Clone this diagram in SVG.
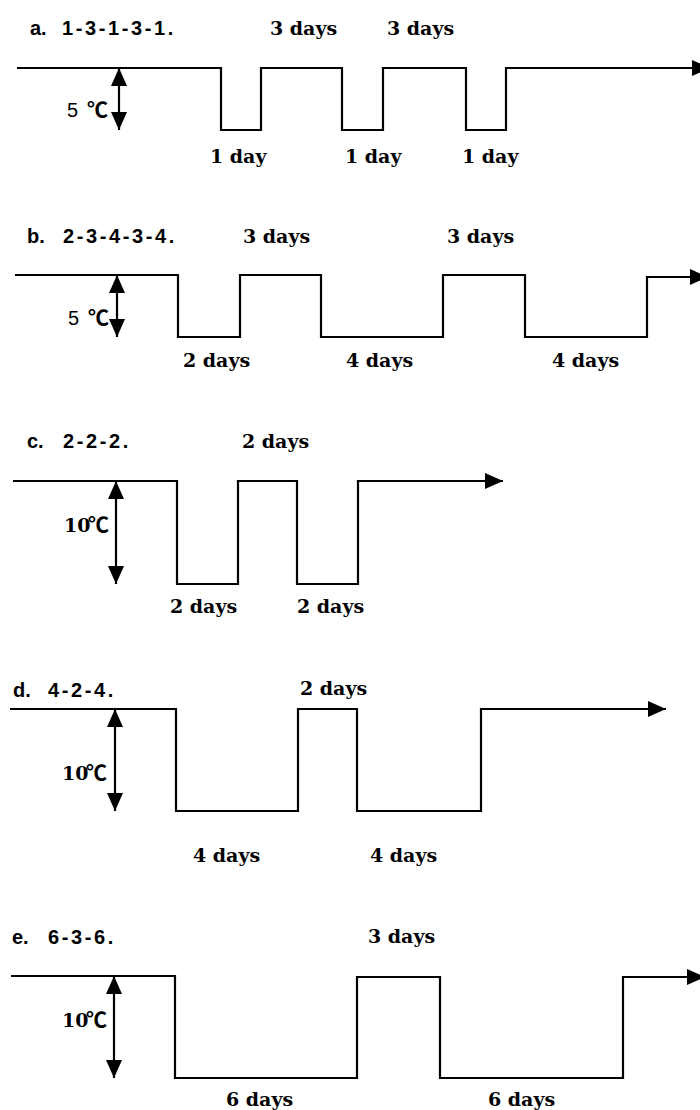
<svg xmlns="http://www.w3.org/2000/svg" width="700" height="1110" viewBox="0 0 700 1110">
<style>
.wave{fill:none;stroke:#000;stroke-width:2.2;stroke-linejoin:miter}
.dim{fill:none;stroke:#000;stroke-width:2.2}
.title{font-family:"Liberation Sans","Noto Sans",sans-serif;font-weight:bold;font-size:20px;fill:#000}
.seq{letter-spacing:2.6px}
.lbl{font-family:"DejaVu Serif","Liberation Serif",serif;font-weight:bold;font-size:19px;fill:#000}
.t5{font-family:"Liberation Sans","Noto Sans",sans-serif;font-size:20px;fill:#000}
.t10{font-family:"DejaVu Serif","Liberation Serif",serif;font-weight:bold;font-size:19px;fill:#000}
.deg{font-family:"Noto Sans CJK JP","Noto Sans CJK SC",sans-serif;font-weight:bold;font-size:21px}
</style>
<defs>
<marker id="ah" markerUnits="userSpaceOnUse" markerWidth="18" markerHeight="16" refX="18" refY="8" orient="auto-start-reverse" viewBox="0 0 18 16">
<path d="M0,0 L18,8 L0,16 z" fill="#000"/>
</marker>
</defs>

<g id="connectors">
<path id="wave-a" class="wave" d="M17,68 H221 V130 H261 V68 H342 V130 H383 V68 H466 V130 H506 V68 H710" marker-end="url(#ah)"/>
<path id="dim-a" class="dim" d="M119,68 V130" marker-start="url(#ah)" marker-end="url(#ah)"/>
<path id="wave-b" class="wave" d="M15,275 H178 V337 H240 V275 H321 V337 H443 V275 H525 V337 H647 V277 H708" marker-end="url(#ah)"/>
<path id="dim-b" class="dim" d="M117,275 V337" marker-start="url(#ah)" marker-end="url(#ah)"/>
<path id="wave-c" class="wave" d="M13,481 H177 V584 H238 V481 H297 V584 H358 V481 H503" marker-end="url(#ah)"/>
<path id="dim-c" class="dim" d="M116,481 V584" marker-start="url(#ah)" marker-end="url(#ah)"/>
<path id="wave-d" class="wave" d="M10,709 H176 V811 H298 V709 H357 V811 H481 V709 H666" marker-end="url(#ah)"/>
<path id="dim-d" class="dim" d="M115,709 V811" marker-start="url(#ah)" marker-end="url(#ah)"/>
<path id="wave-e" class="wave" d="M11,976 H175 V1078 H357 V977 H440 V1078 H623 V977 H705" marker-end="url(#ah)"/>
<path id="dim-e" class="dim" d="M114,976 V1078" marker-start="url(#ah)" marker-end="url(#ah)"/>
</g>

<g id="panel-a">
<text class="title" y="35"><tspan x="30">a.</tspan><tspan x="62" class="seq">1-3-1-3-1.</tspan></text>
<text class="lbl" x="270" y="35">3 days</text>
<text class="lbl" x="387" y="35">3 days</text>
<text class="t5" y="117"><tspan x="67">5</tspan><tspan x="87" class="deg">℃</tspan></text>
<text class="lbl" x="210" y="163">1 day</text>
<text class="lbl" x="345" y="163">1 day</text>
<text class="lbl" x="462" y="163">1 day</text>
</g>

<g id="panel-b">
<text class="title" y="243"><tspan x="27">b.</tspan><tspan x="63" class="seq">2-3-4-3-4.</tspan></text>
<text class="lbl" x="243" y="243">3 days</text>
<text class="lbl" x="447" y="243">3 days</text>
<text class="t5" y="325"><tspan x="68">5</tspan><tspan x="88" class="deg">℃</tspan></text>
<text class="lbl" x="183" y="367">2 days</text>
<text class="lbl" x="346" y="367">4 days</text>
<text class="lbl" x="552" y="367">4 days</text>
</g>

<g id="panel-c">
<text class="title" y="448"><tspan x="27">c.</tspan><tspan x="63" class="seq">2-2-2.</tspan></text>
<text class="lbl" x="242" y="448">2 days</text>
<text class="t10" y="532"><tspan x="64">10</tspan><tspan x="88" class="deg">℃</tspan></text>
<text class="lbl" x="170" y="613">2 days</text>
<text class="lbl" x="297" y="613">2 days</text>
</g>

<g id="panel-d">
<text class="title" y="697"><tspan x="13">d.</tspan><tspan x="48" class="seq">4-2-4.</tspan></text>
<text class="lbl" x="300" y="695">2 days</text>
<text class="t10" y="780"><tspan x="62">10</tspan><tspan x="86" class="deg">℃</tspan></text>
<text class="lbl" x="193" y="862">4 days</text>
<text class="lbl" x="370" y="862">4 days</text>
</g>

<g id="panel-e">
<text class="title" y="944"><tspan x="12">e.</tspan><tspan x="48" class="seq">6-3-6.</tspan></text>
<text class="lbl" x="368" y="943">3 days</text>
<text class="t10" y="1027"><tspan x="62">10</tspan><tspan x="86" class="deg">℃</tspan></text>
<text class="lbl" x="226" y="1106">6 days</text>
<text class="lbl" x="488" y="1106">6 days</text>
</g>
</svg>
